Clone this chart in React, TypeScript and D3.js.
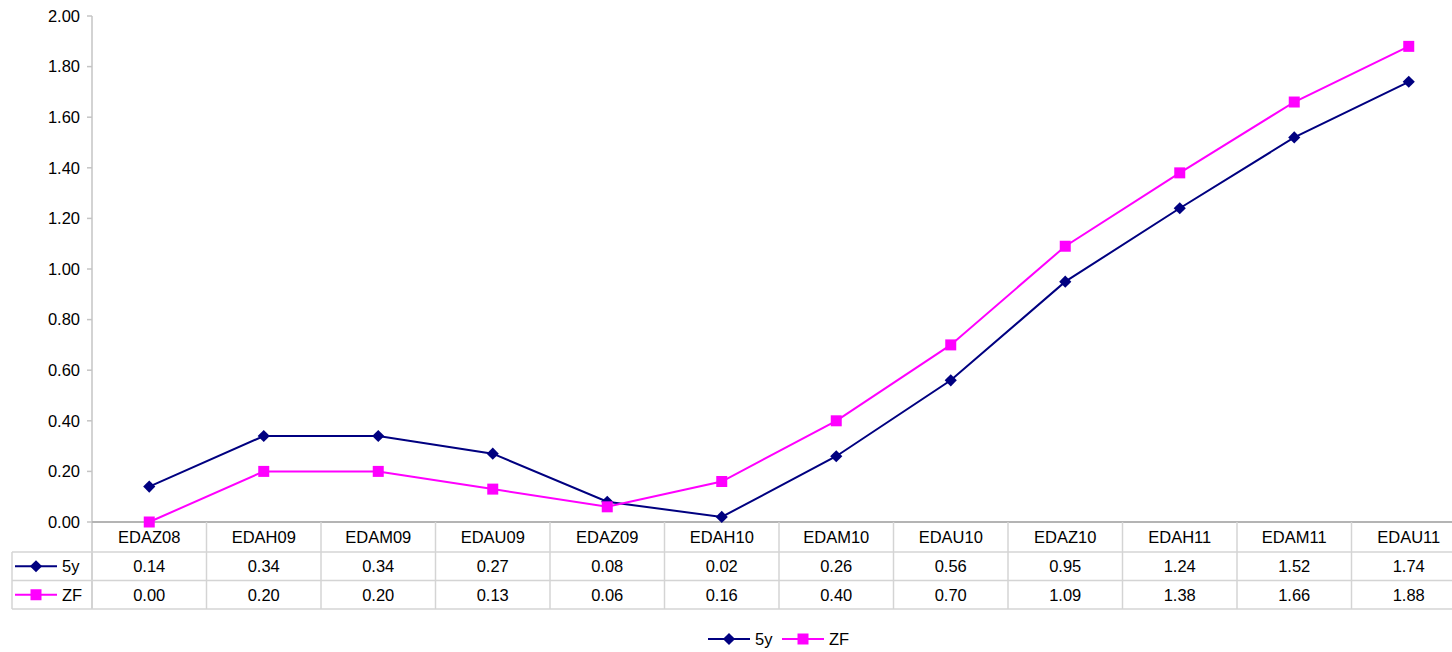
import * as d3 from 'd3';
import React from 'react';

// chart values
const categories = [
  'EDAZ08', 'EDAH09', 'EDAM09', 'EDAU09', 'EDAZ09', 'EDAH10',
  'EDAM10', 'EDAU10', 'EDAZ10', 'EDAH11', 'EDAM11', 'EDAU11'
];
const fiveY = [0.14, 0.34, 0.34, 0.27, 0.08, 0.02, 0.26, 0.56, 0.95, 1.24, 1.52, 1.74];
const zf = [0.0, 0.2, 0.2, 0.13, 0.06, 0.16, 0.4, 0.7, 1.09, 1.38, 1.66, 1.88];
const yTicks = [0, 0.2, 0.4, 0.6, 0.8, 1.0, 1.2, 1.4, 1.6, 1.8, 2.0];

const series = [
  { name: '5y', values: fiveY, color: '#000080', symbol: 'diamond' },
  { name: 'ZF', values: zf, color: '#FF00FF', symbol: 'square' }
];

const W = 1452;
const H = 652;
const FONT = '"Liberation Sans", Arial, sans-serif';
const FS = 16.5;

const x = d3.scaleBand<string>().domain(categories).range([92, 1466]);
const y = d3.scaleLinear().domain([0, 2]).range([522, 16]);

// table rows below the plot
const headerBottom = 552;
const rowH = 28.5;
const tableLeft = 12;

const Marker: React.FC<{ kind: string; cx: number; cy: number; color: string }> = ({ kind, cx, cy, color }) => {
  if (kind === 'diamond') {
    const path = d3.symbol().type(d3.symbolSquare).size(74)();
    return <path d={path || ''} transform={`translate(${cx},${cy}) rotate(45)`} fill={color} />;
  }
  const path = d3.symbol().type(d3.symbolSquare).size(121)();
  return <path d={path || ''} transform={`translate(${cx},${cy})`} fill={color} />;
};

const LegendKey: React.FC<{ x0: number; cy: number; s: typeof series[number] }> = ({ x0, cy, s }) => (
  <g>
    <line x1={x0} x2={x0 + 42} y1={cy} y2={cy} stroke={s.color} strokeWidth={2} />
    <Marker kind={s.symbol} cx={x0 + 21} cy={cy} color={s.color} />
    <text x={x0 + 47} y={cy} dy="0.35em" fontSize={FS} fontFamily={FONT}>{s.name}</text>
  </g>
);

export default function App() {
  const line = d3
    .line<number>()
    .x((_d, i) => (x(categories[i]) as number) + x.bandwidth() / 2)
    .y((d) => y(d));

  const tableBottom = headerBottom + rowH * series.length;

  return (
    <svg width={W} height={H} style={{ position: 'absolute', left: 0, top: 0, background: '#fff' }}>
      {/* y axis */}
      <line x1={92} x2={92} y1={16} y2={tableBottom} stroke="#c4c4c4" strokeWidth={1.5} />
      {yTicks.map((t) => (
        <g key={t}>
          <line x1={87} x2={92} y1={y(t)} y2={y(t)} stroke="#c4c4c4" strokeWidth={1.5} />
          <text x={80} y={y(t)} dy="0.35em" textAnchor="end" fontSize={FS} fontFamily={FONT}>
            {t.toFixed(2)}
          </text>
        </g>
      ))}

      {/* x axis + data table grid */}
      <line x1={92} x2={W} y1={y(0)} y2={y(0)} stroke="#b4b4b4" strokeWidth={2} />
      {categories.map((c, i) =>
        i === 0 ? null : (
          <line key={c} x1={x(c)} x2={x(c)} y1={y(0)} y2={tableBottom} stroke="#d4d4d4" strokeWidth={1.5} />
        )
      )}
      {series.map((s, i) => (
        <line
          key={s.name}
          x1={tableLeft}
          x2={W}
          y1={headerBottom + rowH * (i + 1)}
          y2={headerBottom + rowH * (i + 1)}
          stroke="#d4d4d4"
          strokeWidth={1.5}
        />
      ))}
      <line x1={tableLeft} x2={W} y1={headerBottom} y2={headerBottom} stroke="#d4d4d4" strokeWidth={1.5} />
      <line x1={tableLeft} x2={tableLeft} y1={headerBottom} y2={tableBottom} stroke="#d4d4d4" strokeWidth={1.5} />

      {/* category header */}
      {categories.map((c) => (
        <text
          key={c}
          x={(x(c) as number) + x.bandwidth() / 2}
          y={(y(0) + headerBottom) / 2}
          dy="0.35em"
          textAnchor="middle"
          fontSize={FS}
          fontFamily={FONT}
        >
          {c}
        </text>
      ))}

      {/* table rows */}
      {series.map((s, si) => {
        const cy = headerBottom + rowH * si + rowH / 2;
        return (
          <g key={s.name}>
            <LegendKey x0={15} cy={cy} s={s} />
            {s.values.map((v, i) => (
              <text
                key={i}
                x={(x(categories[i]) as number) + x.bandwidth() / 2}
                y={cy}
                dy="0.35em"
                textAnchor="middle"
                fontSize={FS}
                fontFamily={FONT}
              >
                {v.toFixed(2)}
              </text>
            ))}
          </g>
        );
      })}

      {/* lines and markers */}
      {series.map((s) => (
        <g key={s.name}>
          <path d={line(s.values) || ''} fill="none" stroke={s.color} strokeWidth={2} />
          {s.values.map((v, i) => (
            <Marker
              key={i}
              kind={s.symbol}
              cx={(x(categories[i]) as number) + x.bandwidth() / 2}
              cy={y(v)}
              color={s.color}
            />
          ))}
        </g>
      ))}

      {/* bottom legend */}
      <LegendKey x0={708} cy={639} s={series[0]} />
      <LegendKey x0={782} cy={639} s={series[1]} />
    </svg>
  );
}
